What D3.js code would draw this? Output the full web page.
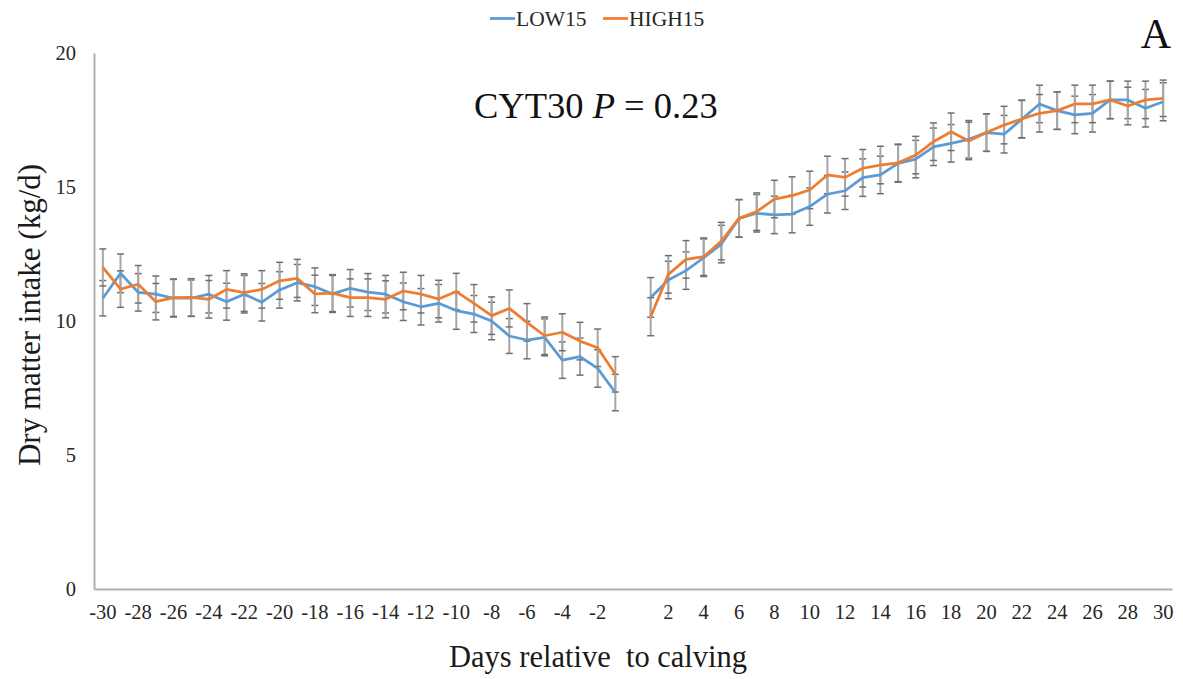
<!DOCTYPE html>
<html>
<head>
<meta charset="utf-8">
<script src="https://cdn.jsdelivr.net/npm/d3@7"></script>
<style>
  body { margin: 0; background: #fff; }
</style>
</head>
<body>
<div id="chart"></div>
<script>
// days relative to calving, day 0 is an empty category
const days = ["-30","-29","-28","-27","-26","-25","-24","-23","-22","-21","-20","-19","-18","-17","-16",
  "-15","-14","-13","-12","-11","-10","-9","-8","-7","-6","-5","-4","-3","-2","-1","0",
  "1","2","3","4","5","6","7","8","9","10","11","12","13","14","15",
  "16","17","18","19","20","21","22","23","24","25","26","27","28","29","30"];
const dayLabels = ["-30","-28","-26","-24","-22","-20","-18","-16","-14","-12","-10","-8","-6","-4","-2",
  "2","4","6","8","10","12","14","16","18","20","22","24","26","28","30"];

const low15 = [10.85, 11.78, 11.07, 11.0, 10.85, 10.85, 11.0, 10.72, 11.0, 10.70, 11.16, 11.43, 11.28, 11.01, 11.22,
  11.08, 11.0, 10.72, 10.53, 10.66, 10.39, 10.26, 10.0, 9.44, 9.29, 9.39, 8.54, 8.67, 8.23, 7.33, null,
  10.88, 11.53, 11.88, 12.36, 12.87, 13.83, 14.02, 13.96, 13.99, 14.27, 14.73, 14.86, 15.35, 15.45, 15.88,
  16.04, 16.5, 16.63, 16.78, 17.03, 16.97, 17.53, 18.1, 17.85, 17.69, 17.75, 18.25, 18.25, 17.94, 18.18];
const high15 = [12.0, 11.19, 11.37, 10.72, 10.87, 10.88, 10.81, 11.18, 11.06, 11.18, 11.5, 11.59, 11.01, 11.04, 10.87,
  10.87, 10.81, 11.12, 11.0, 10.82, 11.1, 10.66, 10.2, 10.47, 9.95, 9.45, 9.58, 9.25, 9.0, 8.01, null,
  10.16, 11.74, 12.3, 12.4, 12.98, 13.83, 14.08, 14.55, 14.68, 14.89, 15.45, 15.36, 15.7, 15.82, 15.9,
  16.19, 16.69, 17.06, 16.72, 17.03, 17.31, 17.54, 17.75, 17.85, 18.1, 18.1, 18.25, 18.02, 18.25, 18.31];

// standard errors
const low15SE = [0.66, 0.72, 0.70, 0.68, 0.70, 0.68, 0.70, 0.69, 0.70, 0.70, 0.68, 0.68, 0.70, 0.69, 0.70,
  0.69, 0.70, 0.70, 0.68, 0.70, 0.70, 0.69, 0.70, 0.65, 0.70, 0.69, 0.68, 0.69, 0.70, 0.68, null,
  0.74, 0.70, 0.70, 0.70, 0.70, 0.70, 0.70, 0.70, 0.70, 0.70, 0.70, 0.70, 0.70, 0.70, 0.70,
  0.70, 0.70, 0.70, 0.70, 0.70, 0.70, 0.70, 0.70, 0.70, 0.70, 0.70, 0.70, 0.70, 0.70, 0.71];
const high15SE = [0.69, 0.68, 0.70, 0.68, 0.70, 0.70, 0.70, 0.70, 0.70, 0.70, 0.69, 0.71, 0.70, 0.69, 0.70,
  0.70, 0.69, 0.70, 0.70, 0.70, 0.68, 0.70, 0.70, 0.69, 0.70, 0.70, 0.69, 0.70, 0.70, 0.66, null,
  0.71, 0.70, 0.70, 0.70, 0.70, 0.70, 0.70, 0.70, 0.70, 0.70, 0.70, 0.70, 0.70, 0.70, 0.70,
  0.70, 0.70, 0.70, 0.70, 0.70, 0.70, 0.70, 0.70, 0.70, 0.70, 0.70, 0.70, 0.70, 0.70, 0.68];

const yTicks = [0, 5, 10, 15, 20];

const serif = "Liberation Serif, Times New Roman, DejaVu Serif, serif";
const width = 1183, height = 679;
const svg = d3.select("#chart").append("svg")
  .attr("width", width)
  .attr("height", height)
  .attr("font-family", serif);

const x = d3.scaleBand().domain(days).range([94, 1172]);
const y = d3.scaleLinear().domain([0, 20]).range([589, 53]);
const cx = d => x(d) + x.bandwidth() / 2;

// axes
const yAxis = svg.append("g")
  .attr("transform", "translate(94,0)")
  .call(d3.axisLeft(y).tickValues(yTicks).tickSize(0).tickPadding(18));
const xAxis = svg.append("g")
  .attr("transform", "translate(0,589)")
  .call(d3.axisBottom(x).tickSize(0).tickPadding(15)
    .tickFormat(d => dayLabels.includes(d) ? d : ""));
[xAxis, yAxis].forEach(g => {
  g.attr("font-family", serif);
  g.select(".domain").attr("stroke", "#b0b0b0").attr("stroke-width", 2);
  g.selectAll("text").attr("font-size", 20.5).attr("fill", "#262626");
});

const series = [
  { name: "LOW15", values: low15, se: low15SE, color: "#5b9bd5" },
  { name: "HIGH15", values: high15, se: high15SE, color: "#ed7d31" }
];

// error bars
series.forEach(s => {
  const g = svg.append("g");
  days.forEach((d, i) => {
    const v = s.values[i];
    if (v == null) return;
    const e = s.se[i];
    g.append("line")
      .attr("x1", cx(d)).attr("x2", cx(d))
      .attr("y1", y(v - e)).attr("y2", y(v + e))
      .attr("stroke", "#a6a6a6").attr("stroke-width", 2);
    [v - e, v + e].forEach(t => {
      g.append("line")
        .attr("x1", cx(d) - 3.5).attr("x2", cx(d) + 3.5)
        .attr("y1", y(t)).attr("y2", y(t))
        .attr("stroke", "#6f6f6f").attr("stroke-width", 1.5);
    });
  });
});

// lines
const line = d3.line()
  .defined(d => d.v != null)
  .x(d => cx(d.day))
  .y(d => y(d.v));
series.forEach(s => {
  svg.append("path")
    .datum(days.map((d, i) => ({ day: d, v: s.values[i] })))
    .attr("fill", "none")
    .attr("stroke", s.color)
    .attr("stroke-width", 2.75)
    .attr("stroke-linejoin", "round")
    .attr("d", line);
});

// legend
const legend = svg.append("g").attr("font-size", 21.5).attr("fill", "#262626");
[[490, 0], [603, 1]].forEach(([lx, i]) => {
  legend.append("line")
    .attr("x1", lx).attr("x2", lx + 25)
    .attr("y1", 18.5).attr("y2", 18.5)
    .attr("stroke", series[i].color).attr("stroke-width", 2.75);
  legend.append("text")
    .attr("x", lx + 26).attr("y", 26)
    .text(series[i].name);
});

// annotation
const ann = svg.append("text")
  .attr("x", 474).attr("y", 118)
  .attr("font-size", 36.5).attr("fill", "#111");
ann.append("tspan").text("CYT30 ");
ann.append("tspan").attr("font-style", "italic").text("P");
ann.append("tspan").text(" = 0.23");

svg.append("text")
  .attr("x", 1171).attr("y", 48)
  .attr("text-anchor", "end")
  .attr("font-size", 42).attr("fill", "#111")
  .text("A");

// axis titles
svg.append("text")
  .attr("transform", "translate(40,315) rotate(-90)")
  .attr("text-anchor", "middle")
  .attr("font-size", 31).attr("fill", "#1a1a1a")
  .text("Dry matter intake (kg/d)");
svg.append("text")
  .attr("x", 598).attr("y", 667)
  .attr("text-anchor", "middle")
  .attr("font-size", 30.5).attr("fill", "#1a1a1a")
  .style("white-space", "pre")
  .text("Days relative  to calving");
</script>
</body>
</html>
